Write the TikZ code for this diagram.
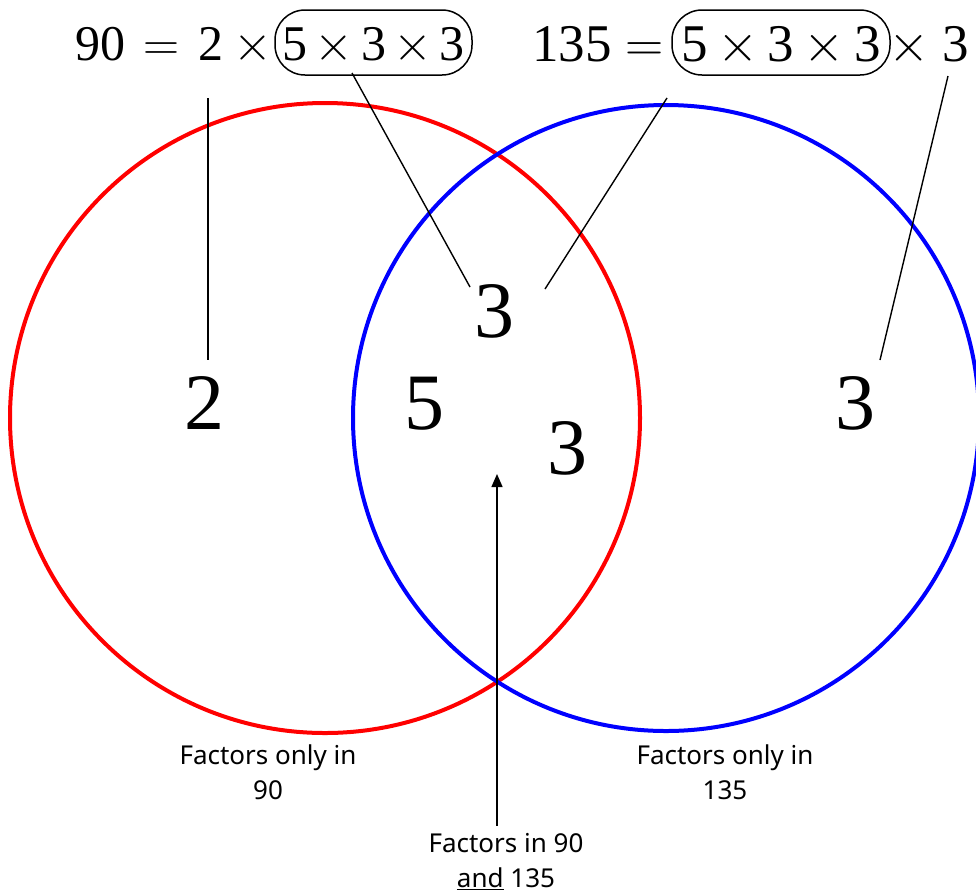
\RequirePackage{fix-cm}
\documentclass[tikz,border=0pt]{standalone}
\usepackage{fontspec}
\setmainfont{Liberation Serif}
\newfontfamily\labfont{Noto Sans}
\usetikzlibrary{arrows.meta}
\newcommand{\tx}{\ensuremath{\times}}
\newcommand{\prodA}{5\hspace{7.5pt}\tx\hspace{7.5pt}3\hspace{7.5pt}\tx\hspace{7.5pt}3}
\newcommand{\prodB}{5\hspace{9.5pt}\tx\hspace{9.5pt}3\hspace{9.5pt}\tx\hspace{9.5pt}3}
\begin{document}
\begin{tikzpicture}[x=1pt,y=-1pt,
  eqA/.style={inner sep=0pt, font=\fontsize{50}{50}\selectfont},
  eqB/.style={inner sep=0pt, font=\fontsize{53}{53}\selectfont},
  big/.style={inner sep=0pt, font=\fontsize{80}{80}\selectfont},
  grp/.style={draw, rounded corners=30pt, line width=1.5pt, inner sep=0pt},
  lab/.style={align=center, inner sep=0pt, font=\labfont\fontsize{26}{35}\selectfont},
  conn/.style={line width=1.4pt},
  ring/.style={line width=4pt}]
\useasboundingbox (0,0) rectangle (976,895);
% circles
\draw[ring, red] (325,418) circle[radius=315];
\draw[ring, blue] (666,418) circle[radius=313];
% equation 1
\node[eqA, anchor=base] (n90) at (100,60) {90};
\node[eqA, anchor=base] (eqs1) at (161,60) {$=$};
\node[eqA, anchor=base] (two) at (211,60) {2};
\node[eqA, anchor=base] (tm1) at (253,60) {\tx};
\node[grp, minimum width=197pt, minimum height=65pt] (box1) at (373.5,42.5) {};
\node[eqA, anchor=base] (in1) at (373.5,60) {\prodA};
% equation 2
\node[eqB, anchor=base] (n135) at (572,61) {135};
\node[eqB, anchor=base] (eqs2) at (645,61) {$=$};
\node[grp, minimum width=218pt, minimum height=65pt] (box2) at (781,42.5) {};
\node[eqB, anchor=base] (in2) at (781,61) {\prodB};
\node[eqB, anchor=base] (tm2) at (909,61) {\tx};
\node[eqB, anchor=base] (three) at (956,61) {3};
% numbers in circles
\node[big] (b2) at (204,403) {2};
\node[big] (b5) at (424,404) {5};
\node[big] (b3a) at (494,311) {3};
\node[big] (b3b) at (567,448) {3};
\node[big] (b3c) at (855,403) {3};
% connector ends
\coordinate (c1a) at (208,98);
\coordinate (c1b) at (208,360);
\coordinate (c2a) at (352,73);
\coordinate (c2b) at (470,287);
\coordinate (c3a) at (667,98);
\coordinate (c3b) at (545,289);
\coordinate (c4a) at (948,76);
\coordinate (c4b) at (880,360);
\draw[conn] (c1a) -- (c1b);
\draw[conn] (c2a) -- (c2b);
\draw[conn] (c3a) -- (c3b);
\draw[conn] (c4a) -- (c4b);
% labels
\node[lab] (l90) at (268,772) {Factors only in\\90};
\node[lab] (l135) at (725,772) {Factors only in\\135};
\node[lab] (lboth) at (506,862) {Factors in 90\\\underline{and} 135};
\coordinate (arrtip) at (497,474);
\draw[conn, -{Triangle[length=13pt,width=11pt]}] (lboth.north -| arrtip) ++(0,-8) -- (arrtip);
\end{tikzpicture}
\end{document}
